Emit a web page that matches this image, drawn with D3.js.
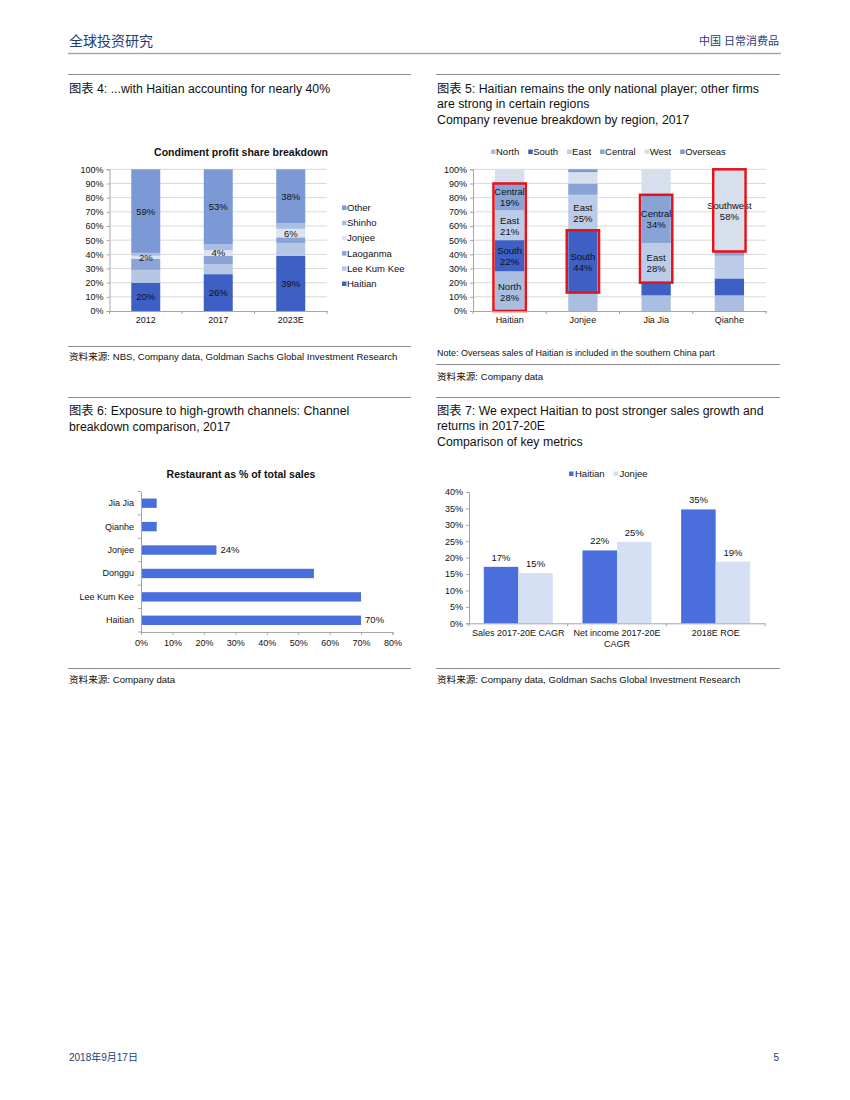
<!DOCTYPE html>
<html>
<head>
<meta charset="utf-8">
<script src="https://cdn.jsdelivr.net/npm/d3@7"></script>
<style>
  body { margin: 0; background: #fff; }
  svg { display: block; font-family: "Liberation Sans", Arial, sans-serif; }
  .cjk { font-family: "Liberation Sans", "Noto Sans CJK SC", sans-serif; }
</style>
</head>
<body>
<div id="svg_container"></div>
<script>
// Chart 4: condiment profit share
const years1 = ["2012", "2017", "2023E"];
const profitKeys = ["Haitian", "Lee Kum Kee", "Laoganma", "Jonjee", "Shinho", "Other"];
const haitian1 = [20, 26, 39];
const leeKumKee1 = [9, 7, 9];
const laoganma1 = [8, 6, 4];
const jonjee1 = [2, 4, 6];
const shinho1 = [2, 4, 4];
const other1 = [59, 53, 38];
const labelled1 = ["Haitian", "Jonjee", "Other"];

// Chart 5: revenue by region
const companies2 = ["Haitian", "Jonjee", "Jia Jia", "Qianhe"];
const regionKeys = ["North", "South", "East", "Central", "West", "Overseas"];
const north2 = [28, 13, 11, 11];
const south2 = [22, 44, 9, 12];
const east2 = [21, 25, 28, 16];
const central2 = [19, 8, 34, 3];
const west2 = [10, 8, 18, 58];
const overseas2 = [0, 2, 0, 0];
// segments with a text label: [company, region, label name]
const labels2 = [
    ["Haitian", "North", "North"], ["Haitian", "South", "South"],
    ["Haitian", "East", "East"], ["Haitian", "Central", "Central"],
    ["Jonjee", "South", "South"], ["Jonjee", "East", "East"],
    ["Jia Jia", "East", "East"], ["Jia Jia", "Central", "Central"],
    ["Qianhe", "West", "Southwest"]
];
// red boxes: [company, first region, last region]
const boxes2 = [
    ["Haitian", "North", "Central"], ["Jonjee", "South", "South"],
    ["Jia Jia", "East", "Central"], ["Qianhe", "West", "West"]
];

// Chart 6: restaurant share
const companies3 = ["Jia Jia", "Qianhe", "Jonjee", "Donggu", "Lee Kum Kee", "Haitian"];
const restaurant3 = [5, 5, 24, 55, 70, 70];
const restaurantLabels3 = ["", "", "24%", "", "", "70%"];

// Chart 7: key metrics
const metrics4 = ["Sales 2017-20E CAGR", "Net income 2017-20E\nCAGR", "2018E ROE"];
const haitian4 = [17.2, 22.2, 34.7];
const jonjee4 = [15.3, 24.8, 18.8];

const pct = d => d + "%";

function createPage() {
    const width = 850, height = 1100;
    const svg = d3.select('#svg_container').append("svg")
        .attr("width", width)
        .attr("height", height);
    svg.append("rect").attr("width", width).attr("height", height).attr("fill", "#fff");

    // page header / footer
    svg.append("text").attr("class", "cjk").attr("x", 69).attr("y", 46)
        .attr("font-size", 14).attr("fill", "#1f3b78").text("全球投资研究");
    svg.append("text").attr("class", "cjk").attr("x", 779).attr("y", 45)
        .attr("text-anchor", "end").attr("font-size", 11).attr("fill", "#1f3b78").text("中国 日常消费品");
    svg.append("line").attr("x1", 68).attr("x2", 781).attr("y1", 53.5).attr("y2", 53.5)
        .attr("stroke", "#a6a6a6").attr("stroke-width", 1.5);
    svg.append("text").attr("class", "cjk").attr("x", 69).attr("y", 1061)
        .attr("font-size", 10).attr("fill", "#1f3b78").text("2018年9月17日");
    svg.append("text").attr("x", 779).attr("y", 1061).attr("text-anchor", "end")
        .attr("font-size", 10).attr("fill", "#1f3b78").text("5");

    const rule = (x1, x2, y) => svg.append("line").attr("x1", x1).attr("x2", x2)
        .attr("y1", y).attr("y2", y).attr("stroke", "#8c8c8c").attr("stroke-width", 1);
    const para = (x, y, lines, size, step) => {
        const t = svg.append("text").attr("class", "cjk").attr("font-size", size).attr("fill", "#111");
        lines.forEach((s, i) => t.append("tspan").attr("x", x).attr("y", y + i * step).text(s));
    };

    const L = [68, 411], R = [436, 780];
    rule(L[0], L[1], 74.5); rule(R[0], R[1], 74.5);
    para(69, 93, ["图表 4: ...with Haitian accounting for nearly 40%"], 12.3, 15);
    para(437, 93, ["图表 5: Haitian remains the only national player; other firms",
        "are strong in certain regions", "Company revenue breakdown by region, 2017"], 12.3, 15.3);

    rule(L[0], L[1], 346.5);
    para(69, 360, ["资料来源:  NBS, Company data, Goldman Sachs Global Investment Research"], 9.6, 12);
    svg.append("text").attr("x", 437).attr("y", 356).attr("font-size", 9).attr("fill", "#111")
        .text("Note: Overseas sales of Haitian is included in the southern China part");
    rule(R[0], R[1], 364.5);
    para(437, 380, ["资料来源:  Company data"], 9.6, 12);

    rule(L[0], L[1], 397.5); rule(R[0], R[1], 397.5);
    para(69, 415, ["图表 6: Exposure to high-growth channels: Channel", "breakdown comparison, 2017"], 12.3, 15.5);
    para(437, 415, ["图表 7: We expect Haitian to post stronger sales growth and",
        "returns in 2017-20E", "Comparison of key metrics"], 12.3, 15.3);

    rule(L[0], L[1], 668.5); rule(R[0], R[1], 668.5);
    para(69, 683, ["资料来源:  Company data"], 9.6, 12);
    para(437, 683, ["资料来源:  Company data, Goldman Sachs Global Investment Research"], 9.6, 12);

    drawProfitShare(svg);
    drawRegions(svg);
    drawRestaurant(svg);
    drawMetrics(svg);
}

function styleAxis(g) {
    g.select(".domain").attr("stroke", "#a6a6a6");
    g.selectAll(".tick line").attr("stroke", "#a6a6a6");
    g.selectAll(".tick text").attr("fill", "#111").attr("font-size", 9)
        .attr("font-family", "Liberation Sans, Arial, sans-serif");
}

function drawProfitShare(svg) {
    const colors = {
        "Haitian": "#3e5fc3", "Lee Kum Kee": "#b6c7e5", "Laoganma": "#8aa4d6",
        "Jonjee": "#dce3f1", "Shinho": "#aabde3", "Other": "#7c99d5"
    };
    const cols = { "Haitian": haitian1, "Lee Kum Kee": leeKumKee1, "Laoganma": laoganma1,
        "Jonjee": jonjee1, "Shinho": shinho1, "Other": other1 };
    const rows = years1.map((y, i) => {
        const r = { year: y };
        profitKeys.forEach(k => r[k] = cols[k][i]);
        return r;
    });
    const stacked = d3.stack().keys(profitKeys)(rows);

    const x = d3.scaleBand().domain(years1).range([109.5, 327]).paddingInner(0.6).paddingOuter(0.3);
    const y = d3.scaleLinear().domain([0, 100]).range([311, 169.3]);

    svg.append("text").attr("x", 241).attr("y", 156).attr("text-anchor", "middle")
        .attr("font-size", 10.5).attr("font-weight", "bold").attr("fill", "#111")
        .text("Condiment profit share breakdown");

    svg.append("g").selectAll("line").data(d3.range(10, 101, 10)).join("line")
        .attr("x1", 109.5).attr("x2", 327).attr("y1", d => y(d)).attr("y2", d => y(d))
        .attr("stroke", "#d9d9d9");

    svg.append("g").selectAll("g").data(stacked).join("g")
        .attr("fill", d => colors[d.key])
        .selectAll("rect").data(d => d).join("rect")
        .attr("x", d => x(d.data.year)).attr("width", x.bandwidth())
        .attr("y", d => y(d[1])).attr("height", d => y(d[0]) - y(d[1]));

    svg.append("g").selectAll("g").data(stacked.filter(s => labelled1.includes(s.key))).join("g")
        .selectAll("text").data(d => d).join("text")
        .attr("x", d => x(d.data.year) + x.bandwidth() / 2)
        .attr("y", d => y((d[0] + d[1]) / 2) + 3.5)
        .attr("text-anchor", "middle").attr("font-size", 9.5).attr("fill", "#111")
        .text(d => pct(d[1] - d[0]));

    const yAxis = svg.append("g").attr("transform", "translate(109.5,0)")
        .call(d3.axisLeft(y).tickValues(d3.range(0, 101, 10)).tickFormat(pct).tickSize(3).tickPadding(3));
    styleAxis(yAxis);
    const xAxis = svg.append("g").attr("transform", "translate(0,311)")
        .call(d3.axisBottom(x).tickSize(0).tickPadding(6));
    styleAxis(xAxis);
    // ticks between categories
    svg.append("g").selectAll("line").data(d3.range(0, years1.length + 1)).join("line")
        .attr("x1", i => 109.5 + i * (327 - 109.5) / years1.length)
        .attr("x2", i => 109.5 + i * (327 - 109.5) / years1.length)
        .attr("y1", 311).attr("y2", 314).attr("stroke", "#a6a6a6");

    const legend = svg.append("g").selectAll("g").data(profitKeys.slice().reverse()).join("g")
        .attr("transform", (d, i) => `translate(342,${211 + i * 15.2})`);
    legend.append("rect").attr("y", -5.5).attr("width", 4.5).attr("height", 4.5).attr("fill", d => colors[d]);
    legend.append("text").attr("x", 5).attr("font-size", 9.5).attr("fill", "#111").text(d => d);
}

function drawRegions(svg) {
    const colors = {
        "North": "#aabee2", "South": "#3e5fc3", "East": "#bccbe8",
        "Central": "#88a3d6", "West": "#d8dfec", "Overseas": "#7c99d5"
    };
    const cols = { "North": north2, "South": south2, "East": east2,
        "Central": central2, "West": west2, "Overseas": overseas2 };
    const rows = companies2.map((c, i) => {
        const r = { company: c };
        regionKeys.forEach(k => r[k] = cols[k][i]);
        return r;
    });
    const stacked = d3.stack().keys(regionKeys)(rows);
    const seg = (company, key) => {
        const s = stacked.find(s => s.key === key);
        return s[companies2.indexOf(company)];
    };

    const x = d3.scaleBand().domain(companies2).range([473, 766]).paddingInner(0.6).paddingOuter(0.3);
    const y = d3.scaleLinear().domain([0, 100]).range([311, 169.3]);

    // legend
    const lg = svg.append("g").attr("transform", "translate(491,155)");
    let lx = 0;
    regionKeys.forEach(k => {
        const g = lg.append("g").attr("transform", `translate(${lx},0)`);
        g.append("rect").attr("y", -5.5).attr("width", 4.5).attr("height", 4.5).attr("fill", colors[k]);
        const t = g.append("text").attr("x", 5).attr("font-size", 9.5).attr("fill", "#111").text(k);
        lx += 5 + t.node().getComputedTextLength() + 9;
    });

    svg.append("g").selectAll("line").data(d3.range(10, 101, 10)).join("line")
        .attr("x1", 473).attr("x2", 766).attr("y1", d => y(d)).attr("y2", d => y(d))
        .attr("stroke", "#d9d9d9");

    svg.append("g").selectAll("g").data(stacked).join("g")
        .attr("fill", d => colors[d.key])
        .selectAll("rect").data(d => d).join("rect")
        .attr("x", d => x(d.data.company)).attr("width", x.bandwidth())
        .attr("y", d => y(d[1])).attr("height", d => y(d[0]) - y(d[1]));

    const lab = svg.append("g").selectAll("text").data(labels2).join("text")
        .attr("text-anchor", "middle").attr("font-size", 9.5).attr("fill", "#111");
    lab.each(function ([c, k, name]) {
        const d = seg(c, k);
        const cx = x(c) + x.bandwidth() / 2;
        const cy = y((d[0] + d[1]) / 2);
        const t = d3.select(this);
        t.append("tspan").attr("x", cx).attr("y", cy - 1.5).text(name);
        t.append("tspan").attr("x", cx).attr("y", cy + 9.5).text(pct(d[1] - d[0]));
    });

    svg.append("g").selectAll("rect").data(boxes2).join("rect")
        .attr("x", d => x(d[0]) - 1.5)
        .attr("width", x.bandwidth() + 3)
        .attr("y", d => y(seg(d[0], d[2])[1]))
        .attr("height", d => y(seg(d[0], d[1])[0]) - y(seg(d[0], d[2])[1]))
        .attr("fill", "none").attr("stroke", "#e3131b").attr("stroke-width", 2.5);

    const yAxis = svg.append("g").attr("transform", "translate(473,0)")
        .call(d3.axisLeft(y).tickValues(d3.range(0, 101, 10)).tickFormat(pct).tickSize(3).tickPadding(3));
    styleAxis(yAxis);
    const xAxis = svg.append("g").attr("transform", "translate(0,311)")
        .call(d3.axisBottom(x).tickSize(0).tickPadding(6));
    styleAxis(xAxis);
    svg.append("g").selectAll("line").data(d3.range(0, companies2.length + 1)).join("line")
        .attr("x1", i => 473 + i * (766 - 473) / companies2.length)
        .attr("x2", i => 473 + i * (766 - 473) / companies2.length)
        .attr("y1", 311).attr("y2", 314).attr("stroke", "#a6a6a6");
}

function drawRestaurant(svg) {
    const x = d3.scaleLinear().domain([0, 80]).range([141, 392.5]);
    const y = d3.scaleBand().domain(companies3).range([491.5, 632]).paddingInner(0.6).paddingOuter(0.3);

    svg.append("text").attr("x", 241).attr("y", 478).attr("text-anchor", "middle")
        .attr("font-size", 10.5).attr("font-weight", "bold").attr("fill", "#111")
        .text("Restaurant as % of total sales");

    svg.append("g").selectAll("rect").data(companies3).join("rect")
        .attr("x", x(0)).attr("y", d => y(d))
        .attr("width", (d, i) => x(restaurant3[i]) - x(0)).attr("height", y.bandwidth())
        .attr("fill", "#4a6fdc");

    svg.append("g").selectAll("text").data(companies3).join("text")
        .attr("x", (d, i) => x(restaurant3[i]) + 4)
        .attr("y", d => y(d) + y.bandwidth() / 2 + 3.2)
        .attr("font-size", 9.5).attr("fill", "#111")
        .text((d, i) => restaurantLabels3[i]);

    const xAxis = svg.append("g").attr("transform", "translate(0,632)")
        .call(d3.axisBottom(x).tickValues(d3.range(0, 81, 10)).tickFormat(pct).tickSize(3).tickPadding(5));
    styleAxis(xAxis);
    const yAxis = svg.append("g").attr("transform", "translate(141,0)")
        .call(d3.axisLeft(y).tickSize(0).tickPadding(7));
    styleAxis(yAxis);
    svg.append("g").selectAll("line").data(d3.range(0, companies3.length + 1)).join("line")
        .attr("x1", 138).attr("x2", 141)
        .attr("y1", i => 491.5 + i * (632 - 491.5) / companies3.length)
        .attr("y2", i => 491.5 + i * (632 - 491.5) / companies3.length)
        .attr("stroke", "#a6a6a6");
}

function drawMetrics(svg) {
    const colors = { "Haitian": "#4a6fdc", "Jonjee": "#d6e0f5" };
    const x0 = d3.scaleBand().domain(metrics4).range([469, 765]).paddingInner(0.3).paddingOuter(0.15);
    const x1 = d3.scaleBand().domain(["Haitian", "Jonjee"]).range([0, x0.bandwidth()]);
    const y = d3.scaleLinear().domain([0, 40]).range([623.3, 492]);

    const lg = svg.append("g").attr("transform", "translate(569,477)");
    let lx = 0;
    ["Haitian", "Jonjee"].forEach(k => {
        const g = lg.append("g").attr("transform", `translate(${lx},0)`);
        g.append("rect").attr("y", -5.5).attr("width", 4.5).attr("height", 4.5).attr("fill", colors[k]);
        const t = g.append("text").attr("x", 6).attr("font-size", 9.5).attr("fill", "#111").text(k);
        lx += 6 + t.node().getComputedTextLength() + 9;
    });

    const data = metrics4.map((m, i) => ({ metric: m, vals: [["Haitian", haitian4[i]], ["Jonjee", jonjee4[i]]] }));
    const groups = svg.append("g").selectAll("g").data(data).join("g")
        .attr("transform", d => `translate(${x0(d.metric)},0)`);
    groups.selectAll("rect").data(d => d.vals).join("rect")
        .attr("x", d => x1(d[0])).attr("width", x1.bandwidth())
        .attr("y", d => y(d[1])).attr("height", d => y(0) - y(d[1]))
        .attr("fill", d => colors[d[0]]);
    groups.selectAll("text").data(d => d.vals).join("text")
        .attr("x", d => x1(d[0]) + x1.bandwidth() / 2)
        .attr("y", d => y(d[1]) - 6)
        .attr("text-anchor", "middle").attr("font-size", 9.5).attr("fill", "#111")
        .text(d => pct(Math.round(d[1])));

    const yAxis = svg.append("g").attr("transform", "translate(469,0)")
        .call(d3.axisLeft(y).tickValues(d3.range(0, 41, 5)).tickFormat(pct).tickSize(3).tickPadding(3));
    styleAxis(yAxis);
    const xAxis = svg.append("g").attr("transform", "translate(0,623.3)")
        .call(d3.axisBottom(x0).tickSize(0).tickPadding(6));
    styleAxis(xAxis);
    xAxis.selectAll(".tick text").each(function (d) {
        const t = d3.select(this);
        const parts = d.split("\n");
        t.text(null);
        parts.forEach((p, i) => t.append("tspan").attr("x", 0).attr("dy", i === 0 ? "0.71em" : "1.25em").text(p));
    });
    svg.append("g").selectAll("line").data(d3.range(0, metrics4.length + 1)).join("line")
        .attr("x1", i => 469 + i * (765 - 469) / metrics4.length)
        .attr("x2", i => 469 + i * (765 - 469) / metrics4.length)
        .attr("y1", 623.3).attr("y2", 626.3).attr("stroke", "#a6a6a6");
}

document.addEventListener('DOMContentLoaded', function (e) {
    createPage();
});
</script>
</body>
</html>
